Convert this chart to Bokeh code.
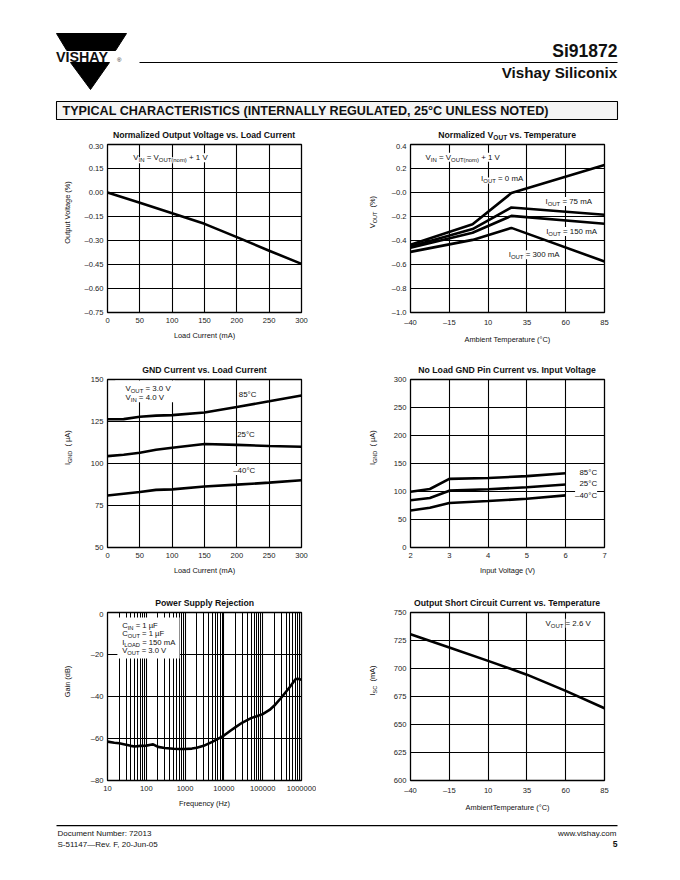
import math
from bokeh.plotting import figure
from bokeh.models import Range1d, FixedTicker, Label, BoxAnnotation
from bokeh.layouts import column, row
from bokeh.embed import file_html
from bokeh.resources import INLINE

FONT = "Liberation Sans"
INK = "#111111"

# ---------------- data ----------------
# Chart 1: Normalized Output Voltage vs. Load Current
c1_load = [0, 50, 100, 150, 200, 250, 300]
c1_vout = [0.00, -0.064, -0.13, -0.196, -0.279, -0.364, -0.446]
c1_xticks = [0, 50, 100, 150, 200, 250, 300]
c1_yticks = [0.30, 0.15, 0.0, -0.15, -0.30, -0.45, -0.60, -0.75]
c1_ylabels = ["0.30", "0.15", "0.00", "–0.15", "–0.30", "–0.45", "–0.60", "–0.75"]

# Chart 2: Normalized VOUT vs. Temperature
c2_temp = [-40, 0, 25, 85]
c2_i0 = [-0.435, -0.265, -0.005, 0.23]
c2_i75 = [-0.45, -0.305, -0.125, -0.185]
c2_i150 = [-0.46, -0.335, -0.195, -0.26]
c2_i300 = [-0.495, -0.395, -0.295, -0.575]
c2_xticks = [-40, -15, 10, 35, 60, 85]
c2_xlabels = ["–40", "–15", "10", "35", "60", "85"]
c2_yticks = [0.4, 0.2, 0.0, -0.2, -0.4, -0.6, -0.8, -1.0]
c2_ylabels = ["0.4", "0.2", "–0.0", "–0.2", "–0.4", "–0.6", "–0.8", "–1.0"]

# Chart 3: GND Current vs. Load Current
c3_load = [0, 25, 50, 75, 100, 150, 200, 250, 300]
c3_85 = [126.3, 126.4, 127.8, 128.5, 128.8, 130.4, 133.6, 137.0, 140.5]
c3_25 = [104.4, 105.2, 106.4, 108.2, 109.4, 111.6, 111.1, 110.4, 110.0]
c3_m40 = [81.0, 82.0, 83.0, 84.3, 84.6, 86.3, 87.4, 88.6, 90.0]
c3_xticks = [0, 50, 100, 150, 200, 250, 300]
c3_yticks = [50, 75, 100, 125, 150]

# Chart 4: No Load GND Pin Current vs. Input Voltage
c4_vin = [2, 2.5, 3, 4, 5, 6]
c4_85 = [99.5, 104.5, 122.5, 124.0, 127.5, 132.5]
c4_25 = [84.5, 88.5, 101.5, 104.0, 107.5, 112.5]
c4_m40 = [66.0, 71.0, 79.5, 83.0, 87.0, 93.0]
c4_xticks = [2, 3, 4, 5, 6, 7]
c4_yticks = [0, 50, 100, 150, 200, 250, 300]

# Chart 5: Power Supply Rejection
c5_freq = [10, 15, 20, 30, 40, 50, 70, 100, 130, 150, 200, 300, 500, 700, 1000,
           1500, 2000, 3000, 5000, 7000, 10000, 15000, 20000, 30000, 50000,
           70000, 100000, 150000, 200000, 300000, 500000, 700000, 800000, 1000000]
c5_gain = [-61.5, -62.0, -62.3, -63.0, -63.5, -63.8, -63.5, -63.4, -63.0, -62.8,
           -64.0, -64.5, -64.9, -65.0, -65.0, -64.8, -64.4, -63.5, -61.6, -60.2,
           -58.6, -56.2, -54.6, -52.4, -50.3, -49.4, -48.4, -46.4, -44.3, -40.6,
           -35.5, -31.8, -31.5, -32.0]
c5_xticks = [10, 100, 1000, 10000, 100000, 1000000]
c5_xlabels = ["10", "100", "1000", "10000", "100000", "1000000"]
c5_yticks = [0, -20, -40, -60, -80]
c5_ylabels = ["0", "–20", "–40", "–60", "–80"]

# Chart 6: Output Short Circuit Current vs. Temperature
c6_temp = [-40, -15, 10, 35, 60, 85]
c6_isc = [730.5, 718.7, 706.8, 694.5, 680.0, 664.5]
c6_xticks = [-40, -15, 10, 35, 60, 85]
c6_xlabels = ["–40", "–15", "10", "35", "60", "85"]
c6_yticks = [600, 625, 650, 675, 700, 725, 750]

# ---------------- text metrics (Arial / Liberation Sans) ----------------
REG = {' ': 278, 'A': 667, 'B': 667, 'C': 722, 'D': 722, 'E': 667, 'F': 611, 'G': 778,
       'H': 722, 'I': 278, 'J': 500, 'K': 667, 'L': 556, 'M': 833, 'N': 722, 'O': 778,
       'P': 667, 'Q': 778, 'R': 722, 'S': 667, 'T': 611, 'U': 722, 'V': 667, 'W': 944,
       'X': 667, 'Y': 667, 'Z': 611, 'a': 556, 'b': 556, 'c': 500, 'd': 556, 'e': 556,
       'f': 278, 'g': 556, 'h': 556, 'i': 222, 'j': 222, 'k': 500, 'l': 222, 'm': 833,
       'n': 556, 'o': 556, 'p': 556, 'q': 556, 'r': 333, 's': 500, 't': 278, 'u': 556,
       'v': 500, 'w': 722, 'x': 500, 'y': 500, 'z': 500, '(': 333, ')': 333, '=': 584,
       '+': 584, '.': 278, ',': 278, '°': 400, 'µ': 556, '-': 333, '–': 556, '—': 1000,
       '%': 889, ':': 278}
BOLD = dict(REG)
BOLD.update({'A': 722, 'B': 722, 'L': 611, 'b': 611, 'c': 556, 'd': 611, 'f': 333,
             'g': 611, 'h': 611, 'i': 278, 'j': 278, 'k': 556, 'l': 278, 'm': 889,
             'n': 611, 'o': 611, 'p': 611, 'q': 611, 'r': 389, 's': 556, 't': 333,
             'u': 611, 'v': 556, 'x': 556, 'y': 556, ':': 333})


def tw(s, size, bold=False):
    tbl = BOLD if bold else REG
    return sum(tbl.get(ch, 556) for ch in s) / 1000.0 * size


def add_text(p, x, y, segs, size, bold=False, align="left", angle=0.0, bg=None,
             color=INK, sub_ratio=0.75):
    """Rich text of normal / subscript pieces, vertically centred on (x, y)."""
    sub_size = size * sub_ratio
    widths = [tw(t, sub_size if sub else size, bold) for t, sub in segs]
    total = sum(widths)
    pos = {"left": 0.0, "center": -total / 2.0, "right": -total}[align]
    for (t, sub), w in zip(segs, widths):
        s = sub_size if sub else size
        lead = len(t) - len(t.lstrip(" "))
        txt = t.strip(" ")
        along = pos + tw(" " * lead, s, bold)
        perp = -0.30 * size if sub else 0.0
        if angle == 0:
            xo, yo = along, perp
        else:
            xo, yo = -perp, along
        if txt:
            lab = Label(x=x, y=y, x_offset=xo, y_offset=yo, text=txt, angle=angle,
                        text_font=FONT, text_font_size=f"{s:.2f}px",
                        text_font_style="bold" if bold else "normal",
                        text_baseline="middle", text_align="left", text_color=color)
            if bg:
                lab.background_fill_color = bg
            p.add_layout(lab)
        pos += w


def pix_fig(x0, y0, w, h):
    """Plain drawing surface whose coordinates are page pixels."""
    p = figure(width=w, height=h, x_range=Range1d(x0, x0 + w), y_range=Range1d(y0 + h, y0),
               output_backend="svg", toolbar_location=None,
               x_axis_location=None, y_axis_location=None,
               min_border_left=0, min_border_right=0, min_border_top=0, min_border_bottom=0)
    p.grid.visible = False
    p.outline_line_color = None
    p.background_fill_color = "white"
    p.border_fill_color = "white"
    return p


FRAME_W = 194
FRAME_H = 168
TITLE_H = 19
TOP_B = 3
LW = 2.6


def block(x0, bw, ylw, box_left, ylab_x, y0, H, xr, yr, title, ylabel, xlabel, x_log=False):
    box_top = y0 + TITLE_H + TOP_B
    tf = pix_fig(x0, y0, bw, TITLE_H)
    add_text(tf, box_left + FRAME_W / 2, box_top - 10, title, 8.7, bold=True, align="center")
    lh = H - TITLE_H
    yf = pix_fig(x0, y0 + TITLE_H, ylw, lh)
    add_text(yf, ylab_x, box_top + FRAME_H / 2, ylabel, 7.4, align="center", angle=math.pi / 2)
    cw = bw - ylw
    bl = box_left - (x0 + ylw)
    p = figure(width=cw, height=lh, x_range=xr, y_range=yr,
               x_axis_type="log" if x_log else "linear",
               output_backend="svg", toolbar_location=None,
               min_border_left=bl, min_border_right=cw - bl - FRAME_W,
               min_border_top=TOP_B, min_border_bottom=lh - TOP_B - FRAME_H)
    p.outline_line_color = "black"
    p.outline_line_width = 1.3
    p.outline_line_alpha = 1.0
    p.background_fill_color = "white"
    p.border_fill_color = "white"
    for ax in p.axis:
        ax.axis_line_color = None
        ax.major_tick_line_color = None
        ax.minor_tick_line_color = None
        ax.major_tick_out = 0
        ax.major_tick_in = 0
        ax.minor_tick_out = 0
        ax.minor_tick_in = 0
        ax.major_label_text_font = FONT
        ax.major_label_text_font_size = "7.6px"
        ax.major_label_text_color = "#222222"
    p.xaxis.major_label_standoff = 5
    p.yaxis.major_label_standoff = 4
    p.xaxis.axis_label = xlabel
    p.xaxis.axis_label_text_font = FONT
    p.xaxis.axis_label_text_font_size = "7.4px"
    p.xaxis.axis_label_text_font_style = "normal"
    p.xaxis.axis_label_text_color = INK
    p.xaxis.axis_label_standoff = 5
    p.grid.grid_line_color = "black"
    p.grid.grid_line_width = 1.1
    p.grid.grid_line_alpha = 1.0
    return p, column(tf, row(yf, p))


# column geometry (page pixels)
L_X0, L_W, L_YLW, L_BOX, L_YLAB = 0, 316, 80, 107, 67
R_X0, R_W, R_YLW, R_BOX, R_YLAB = 316, 300, 70, 410, 372
ROWS = [(122, 235), (357, 233), (590, 234)]

# ---------------- chart 1 ----------------
x1 = Range1d(0, 300)
y1 = Range1d(-0.75, 0.30)
p1, b1 = block(L_X0, L_W, L_YLW, L_BOX, L_YLAB, *ROWS[0], x1, y1,
               [("Normalized Output Voltage vs. Load Current", False)],
               [("Output Voltage (%)", False)], "Load Current (mA)")
p1.xaxis.ticker = FixedTicker(ticks=c1_xticks)
p1.yaxis.ticker = FixedTicker(ticks=c1_yticks)
p1.yaxis.major_label_overrides = {v: s for v, s in zip(c1_yticks, c1_ylabels)}
p1.line(c1_load, c1_vout, line_color="black", line_width=LW)
add_text(p1, 40, 0.217, [("V", False), ("IN", True), (" = V", False), ("OUT(nom)", True),
                         (" + 1 V", False)], 7.9, bg="white")

# ---------------- chart 2 ----------------
x2 = Range1d(-40, 85)
y2 = Range1d(-1.0, 0.4)
p2, b2 = block(R_X0, R_W, R_YLW, R_BOX, R_YLAB, *ROWS[0], x2, y2,
               [("Normalized V", False), ("OUT", True), (" vs. Temperature", False)],
               [("V", False), ("OUT", True), ("  (%)", False)], "Ambient Temperature (°C)")
p2.xaxis.ticker = FixedTicker(ticks=c2_xticks)
p2.xaxis.major_label_overrides = {v: s for v, s in zip(c2_xticks, c2_xlabels)}
p2.yaxis.ticker = FixedTicker(ticks=c2_yticks)
p2.yaxis.major_label_overrides = {v: s for v, s in zip(c2_yticks, c2_ylabels)}
for ys in (c2_i0, c2_i75, c2_i150, c2_i300):
    p2.line(c2_temp, ys, line_color="black", line_width=LW)
add_text(p2, -30.3, 0.294, [("V", False), ("IN", True), (" = V", False), ("OUT(nom)", True),
                            (" + 1 V", False)], 7.9, bg="white")
add_text(p2, 5.5, 0.119, [("I", False), ("OUT", True), (" = 0 mA", False)], 7.9, bg="white")
add_text(p2, 47.0, -0.075, [("I", False), ("OUT", True), (" = 75 mA", False)], 7.9, bg="white")
add_text(p2, 47.4, -0.325, [("I", False), ("OUT", True), (" = 150 mA", False)], 7.9, bg="white")
add_text(p2, 23.3, -0.519, [("I", False), ("OUT", True), (" = 300 mA", False)], 7.9, bg="white")

# ---------------- chart 3 ----------------
x3 = Range1d(0, 300)
y3 = Range1d(50, 150)
p3, b3 = block(L_X0, L_W, L_YLW, L_BOX, L_YLAB, *ROWS[1], x3, y3,
               [("GND Current vs. Load Current", False)],
               [("I", False), ("GND", True), ("  ( µA)", False)], "Load Current (mA)")
p3.xaxis.ticker = FixedTicker(ticks=c3_xticks)
p3.yaxis.ticker = FixedTicker(ticks=c3_yticks)
for ys in (c3_85, c3_25, c3_m40):
    p3.line(c3_load, ys, line_color="black", line_width=LW)
p3.add_layout(BoxAnnotation(left=12, right=104, bottom=136.5, top=149.4, fill_color="white",
                            fill_alpha=1.0, line_color=None))
add_text(p3, 27.8, 144.4, [("V", False), ("OUT", True), (" = 3.0 V", False)], 7.9)
add_text(p3, 27.8, 139.4, [("V", False), ("IN", True), (" = 4.0 V", False)], 7.9)
add_text(p3, 203, 140.8, [("85°C", False)], 7.9, bg="white")
add_text(p3, 200.5, 117.0, [("25°C", False)], 7.9, bg="white")
add_text(p3, 194.4, 95.9, [("–40°C", False)], 7.9, bg="white")

# ---------------- chart 4 ----------------
x4 = Range1d(2, 7)
y4 = Range1d(0, 300)
p4, b4 = block(R_X0, R_W, R_YLW, R_BOX, R_YLAB, *ROWS[1], x4, y4,
               [("No Load GND Pin Current vs. Input Voltage", False)],
               [("I", False), ("GND", True), ("  ( µA)", False)], "Input Voltage (V)")
p4.xaxis.ticker = FixedTicker(ticks=c4_xticks)
p4.yaxis.ticker = FixedTicker(ticks=c4_yticks)
for ys in (c4_85, c4_25, c4_m40):
    p4.line(c4_vin, ys, line_color="black", line_width=LW)
add_text(p4, 6.81, 134.7, [("85°C", False)], 7.9, align="right", bg="white")
add_text(p4, 6.81, 113.7, [("25°C", False)], 7.9, align="right", bg="white")
add_text(p4, 6.81, 92.9, [("–40°C", False)], 7.9, align="right", bg="white")

# ---------------- chart 5 ----------------
x5 = Range1d(10, 1000000)
y5 = Range1d(-80, 0)
p5, b5 = block(L_X0, L_W, L_YLW, L_BOX, L_YLAB, *ROWS[2], x5, y5,
               [("Power Supply Rejection", False)],
               [("Gain  (dB)", False)], "Frequency (Hz)", x_log=True)
minor5 = [m * 10 ** k for k in range(1, 6) for m in range(2, 10)]
p5.xaxis.ticker = FixedTicker(ticks=c5_xticks, minor_ticks=minor5)
p5.xaxis.major_label_overrides = {v: s for v, s in zip(c5_xticks, c5_xlabels)}
p5.yaxis.ticker = FixedTicker(ticks=c5_yticks)
p5.yaxis.major_label_overrides = {v: s for v, s in zip(c5_yticks, c5_ylabels)}
p5.xgrid.minor_grid_line_color = "black"
p5.xgrid.minor_grid_line_width = 1.0
p5.line(c5_freq, c5_gain, line_color="black", line_width=LW)
p5.add_layout(BoxAnnotation(left=18, right=720, bottom=-21.9, top=-2.4, fill_color="white",
                            fill_alpha=1.0, line_color=None))
add_text(p5, 23.9, -6.2, [("C", False), ("IN", True), (" = 1 µF", False)], 7.7)
add_text(p5, 23.9, -10.2, [("C", False), ("OUT", True), (" = 1 µF", False)], 7.7)
add_text(p5, 23.9, -14.3, [("I", False), ("LOAD", True), (" = 150 mA", False)], 7.7)
add_text(p5, 23.9, -18.3, [("V", False), ("OUT", True), (" = 3.0 V", False)], 7.7)

# ---------------- chart 6 ----------------
x6 = Range1d(-40, 85)
y6 = Range1d(600, 750)
p6, b6 = block(R_X0, R_W, R_YLW, R_BOX, R_YLAB, *ROWS[2], x6, y6,
               [("Output Short Circuit Current vs. Temperature", False)],
               [("I", False), ("SC", True), ("  (mA)", False)], "AmbientTemperature (°C)")
p6.xaxis.ticker = FixedTicker(ticks=c6_xticks)
p6.xaxis.major_label_overrides = {v: s for v, s in zip(c6_xticks, c6_xlabels)}
p6.yaxis.ticker = FixedTicker(ticks=c6_yticks)
p6.line(c6_temp, c6_isc, line_color="black", line_width=LW)
add_text(p6, 47.0, 740.4, [("V", False), ("OUT", True), (" = 2.6 V", False)], 7.9, bg="white")

# ---------------- page header / footer ----------------
hdr = pix_fig(0, 0, 640, 122)
hdr.patch([56, 126, 115.1, 66.3], [33, 33, 50, 50], fill_color="black", line_color="black")
hdr.patch([70, 109, 90], [62, 62, 89], fill_color="black", line_color="black")
add_text(hdr, 55.5, 56.0, [("VISHAY", False)], 14.3, bold=True)
add_text(hdr, 116.5, 59.5, [("®", False)], 6)
add_text(hdr, 617, 50, [("Si91872", False)], 17.5, bold=True, align="right")
hdr.line([139, 617], [62, 62], line_color="black", line_width=1.1)
add_text(hdr, 617, 71.8, [("Vishay Siliconix", False)], 15.2, bold=True, align="right")
hdr.quad(left=[56], right=[617], top=[101], bottom=[119], fill_color="#f4f4f4",
         line_color="black", line_width=1.1)
add_text(hdr, 62, 110, [("TYPICAL CHARACTERISTICS (INTERNALLY REGULATED, 25°C UNLESS NOTED)", False)],
         12.6, bold=True)

ftr = pix_fig(0, 824, 640, 48)
ftr.line([56, 617], [825.2, 825.2], line_color="black", line_width=1.2)
add_text(ftr, 57, 832.5, [("Document Number:  72013", False)], 8.0)
add_text(ftr, 57, 843.5, [("S-51147—Rev. F, 20-Jun-05", False)], 8.0)
add_text(ftr, 617, 832.5, [("www.vishay.com", False)], 8.0, align="right")
add_text(ftr, 617, 843.5, [("5", False)], 8.6, bold=True, align="right")

layout = column(hdr, row(b1, b2), row(b3, b4), row(b5, b6), ftr)

with open("out.html", "w") as f:
    f.write(file_html(layout, INLINE))
